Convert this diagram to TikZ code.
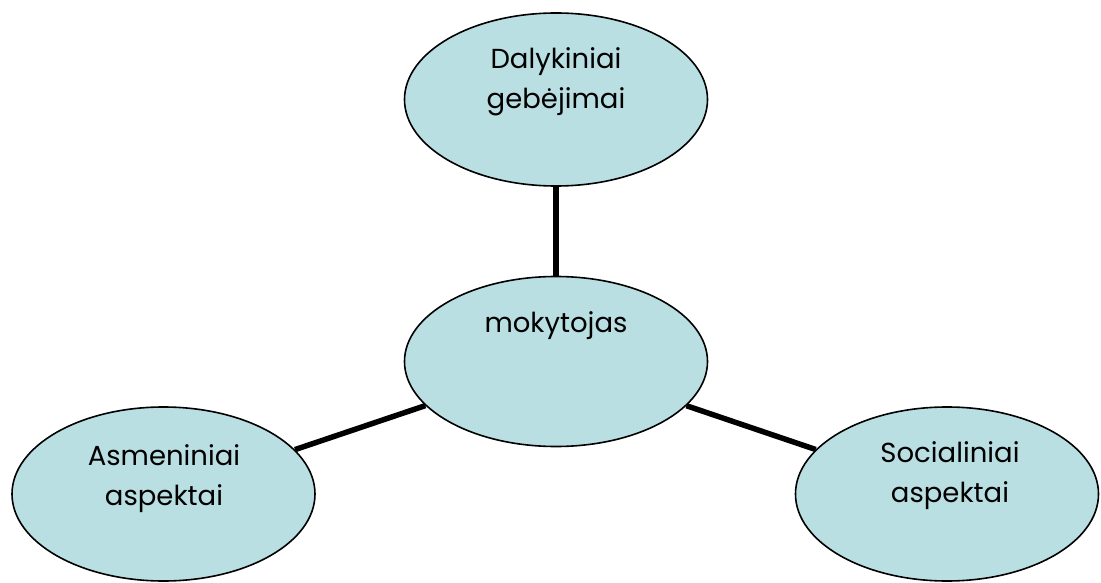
\documentclass[tikz,border=0pt]{standalone}
\usepackage{fontspec}
\setmainfont{Poppins}
\usetikzlibrary{shapes.geometric}
\definecolor{bubble}{HTML}{B9DFE3}
\tikzset{
  bubble/.style={ellipse, draw=black, line width=1.6pt, fill=bubble,
    minimum width=303pt, minimum height=173pt, inner sep=0pt},
  label text/.style={font=\fontsize{27.5}{40}\selectfont, align=center, anchor=base, inner sep=0pt},
  link/.style={line width=5.5pt, draw=black}
}
\begin{document}
\begin{tikzpicture}[x=1pt,y=-1pt]
\useasboundingbox (0,0) rectangle (1101,583);
\node[bubble] (top) at (556,99.5) {};
\node[bubble, minimum height=170pt] (mid) at (556,361.5) {};
\node[bubble, minimum height=174pt] (left) at (163.5,494) {};
\node[bubble, minimum height=174pt] (right) at (947,494) {};
\draw[link] (top) -- (mid);
\draw[link] (left) -- (mid);
\draw[link] (right) -- (mid);
\node[label text] (ttop) at (556,109) {Dalykiniai\\gebėjimai};
\node[label text] (tmid) at (556,332) {mokytojas};
\node[label text] (tleft) at (164,505) {Asmeniniai\\aspektai};
\node[label text] (tright) at (950,502) {Socialiniai\\aspektai};
\end{tikzpicture}
\end{document}
